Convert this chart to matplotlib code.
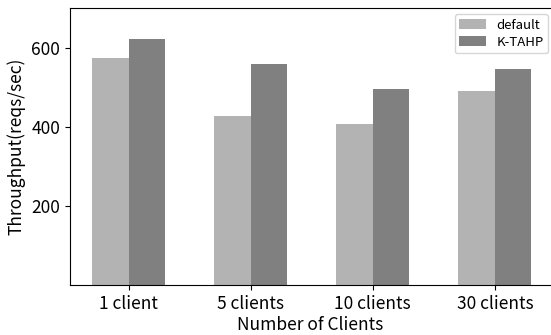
import numpy as np
import matplotlib
matplotlib.use("Agg")
import matplotlib.pyplot as plt

plt.rcParams['font.family'] = ['Noto Sans CJK SC', 'DejaVu Sans']

categories = ["1 client", "5 clients", "10 clients", "30 clients"]
default = [574, 428, 407, 489]
ktahp = [622, 559, 496, 547]

x = np.arange(len(categories))
width = 0.3

fig = plt.figure(figsize=(5.51, 3.35), dpi=100)
ax = fig.add_axes([70 / 551, 1 - 285 / 335, 481 / 551, 277 / 335])

ax.bar(x - width / 2, default, width, color="#b3b3b3", label="default")
ax.bar(x + width / 2, ktahp, width, color="#808080", label="K-TAHP")

# right edge of the original plot is cut off
ax.spines['right'].set_visible(False)
ax.set_xlim(-0.48, 3.46)
ax.set_ylim(0, 700)
ax.set_yticks([200, 400, 600])
ax.set_xticks(x)
ax.set_xticklabels(categories)
ax.tick_params(labelsize=12.5)
ax.set_xlabel("Number of Clients", fontsize=12.5, labelpad=2)
ax.set_ylabel("Throughput(reqs/sec)", fontsize=12.5)
ax.legend(loc="upper right", fontsize=9.5, labelspacing=0.3, borderpad=0.35,
          borderaxespad=0, bbox_to_anchor=(548 / 551, 1 - 14 / 335),
          bbox_transform=fig.transFigure)

fig.savefig("out.png", dpi=100)
plt.close(fig)
